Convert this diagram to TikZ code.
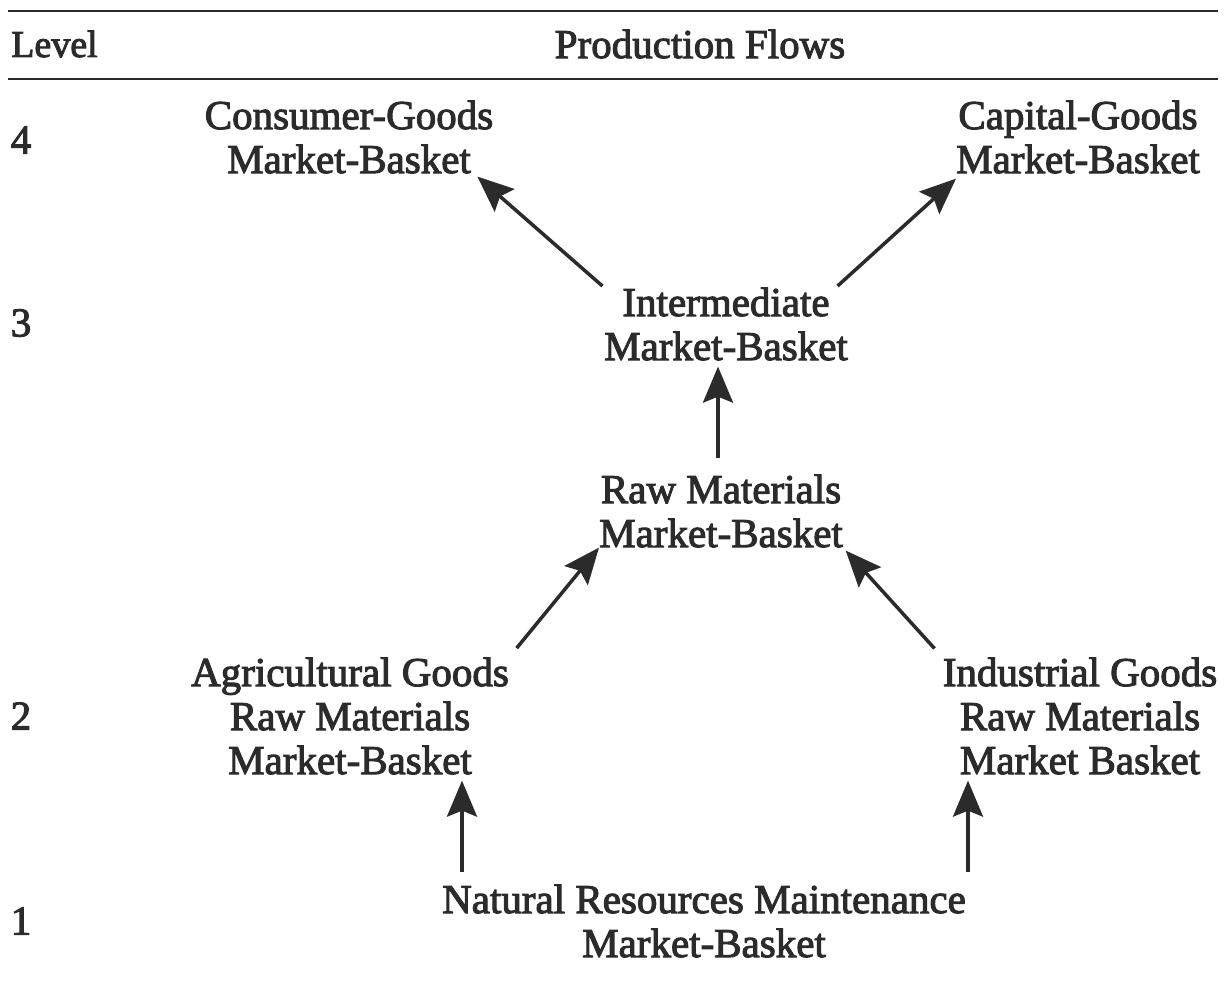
\documentclass[tikz,border=0pt]{standalone}
\usepackage{fontspec}
\setmainfont{Liberation Serif}
\newfontfamily\semib[FakeBold=2.5]{Liberation Serif}
\usetikzlibrary{arrows.meta}
\definecolor{ink}{HTML}{2B2B2B}
\begin{document}
\begin{tikzpicture}[x=1pt,y=-1pt,
  lbl/.style={text=ink, font=\semib\fontsize{41}{44}\selectfont, align=center, inner sep=0pt},
  lvl/.style={text=ink, font=\semib\fontsize{41}{44}\selectfont, inner sep=0pt},
  rule/.style={draw=ink, line width=2.5pt},
  arr/.style={draw=ink, line width=3.5pt, -{Stealth[length=36pt,width=30pt,inset=6pt]}}]
\fill[white] (0,0) rectangle (1226,980);
\useasboundingbox (0,0) rectangle (1226,980);
% rules
\coordinate (r1a) at (8,11);
\coordinate (r1b) at (1218,11);
\coordinate (r2a) at (8,79);
\coordinate (r2b) at (1218,79);
\draw[rule] (r1a) -- (r1b);
\draw[rule] (r2a) -- (r2b);
% header
\node[lvl, anchor=west, font=\semib\fontsize{38}{44}\selectfont] (lvlh) at (11,44) {Level};
\node[lvl] (pf) at (700,44) {Production Flows};
% level numbers
\node[lvl] (l4) at (21,140) {4};
\node[lvl] (l3) at (21,323) {3};
\node[lvl] (l2) at (21,716) {2};
\node[lvl] (l1) at (21,921) {1};
% blocks
\node[lbl] (cons) at (349,137) {Consumer-Goods\\Market-Basket};
\node[lbl] (capg) at (1078,137) {Capital-Goods\\Market-Basket};
\node[lbl] (inter) at (726,324) {Intermediate\\Market-Basket};
\node[lbl] (raw) at (721,511) {Raw Materials\\Market-Basket};
\node[lbl] (agri) at (350,716) {Agricultural Goods\\Raw Materials\\Market-Basket};
\node[lbl] (ind) at (1080,716) {Industrial Goods\\Raw Materials\\Market Basket};
\node[lbl] (nat) at (704,921) {Natural Resources Maintenance\\Market-Basket};
% arrows
\draw[arr, shorten <=2pt] (inter.north west) -- ([xshift=-16pt,yshift=-3pt]cons.south east);
\draw[arr, shorten <=2pt] ([xshift=-12pt]inter.north east) -- ([yshift=-5pt]capg.south west);
\draw[arr, shorten <=16pt, shorten >=6pt] ([xshift=-3pt]raw.north) -- ([xshift=-3pt]raw.north |- inter.south);
\draw[arr, shorten <=12pt] (agri.north east) -- (raw.south west);
\draw[arr, shorten <=12pt, shorten >=4pt] (ind.north west) -- (raw.south east);
\coordinate (b1) at (462,872);
\coordinate (b2) at (968,872);
\draw[arr, shorten >=6pt] (b1) -- (b1 |- agri.south);
\draw[arr, shorten >=6pt] (b2) -- (b2 |- ind.south);
\end{tikzpicture}
\end{document}
